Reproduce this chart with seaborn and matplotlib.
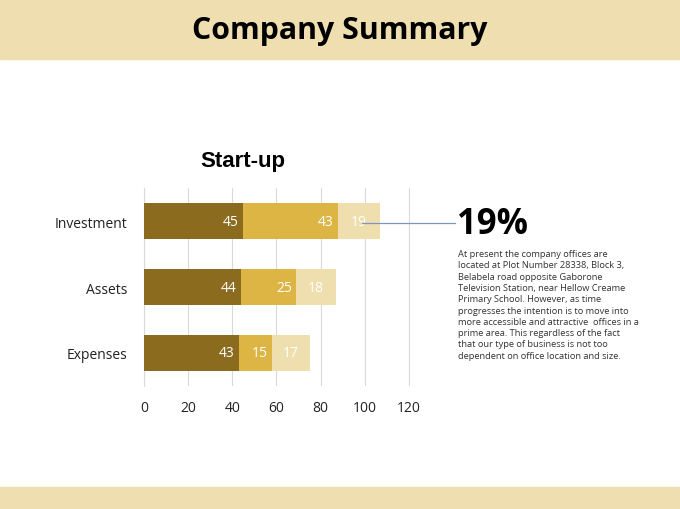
import pandas as pd
import matplotlib.pyplot as plt
import seaborn as sns
from matplotlib.patches import Rectangle

# ===============================
# DATA
# ===============================
categories = ["Investment", "Assets", "Expenses"]
series1 = [45, 44, 43]
series2 = [43, 25, 15]
series3 = [19, 18, 17]
x_ticks = [0, 20, 40, 60, 80, 100, 120]

highlight = "19%"
paragraph = [
    "At present the company offices are",
    "located at Plot Number 28338, Block 3,",
    "Belabela road opposite Gaborone",
    "Television Station, near Hellow Creame",
    "Primary School. However, as time",
    "progresses the intention is to move into",
    "more accessible and attractive  offices in a",
    "prime area. This regardless of the fact",
    "that our type of business is not too",
    "dependent on office location and size.",
]

# colours
band_col = "#EFDFB0"
dark_col = "#8B6C1F"
mid_col = "#DDB545"
light_col = "#EFDFAF"

df = pd.DataFrame({"cat": categories, "s1": series1, "s2": series2, "s3": series3})
df["c1"] = df["s1"]
df["c2"] = df["s1"] + df["s2"]
df["c3"] = df["c2"] + df["s3"]

sns.set_theme(style="white")
plt.rcParams["font.family"] = ["Open Sans", "DejaVu Sans"]

fig = plt.figure(figsize=(6.8, 5.1), dpi=100)

# header / footer bands
fig.patches.append(Rectangle((0, 1 - 60 / 510), 1, 60 / 510, transform=fig.transFigure,
                             color=band_col, zorder=0))
fig.patches.append(Rectangle((0, 0), 1, 22 / 510, transform=fig.transFigure,
                             color=band_col, zorder=0))
fig.text(0.5, 1 - 31 / 510, "Company Summary", ha="center", va="center",
         fontsize=21.8, fontweight="bold", color="black")

# ===============================
# STACKED BAR CHART
# ===============================
ax = fig.add_axes([144 / 680, 1 - 387 / 510, 266 / 680, 198 / 510])
bar_kw = dict(orient="h", width=0.55, saturation=1, linewidth=0, ax=ax, zorder=3)
sns.barplot(data=df, y="cat", x="c3", color=light_col, **bar_kw)
sns.barplot(data=df, y="cat", x="c2", color=mid_col, **bar_kw)
sns.barplot(data=df, y="cat", x="c1", color=dark_col, **bar_kw)

for i, row in df.iterrows():
    ax.text(row["c1"] - 2, i, str(row["s1"]), ha="right", va="center",
            color="white", fontsize=10, zorder=4)
    ax.text(row["c2"] - 2, i, str(row["s2"]), ha="right", va="center",
            color="white", fontsize=10, zorder=4)
    ax.text(row["c2"] + row["s3"] / 2, i, str(row["s3"]), ha="center", va="center",
            color="white", fontsize=10, zorder=4)

ax.set_xlim(0, 120.5)
ax.set_ylim(2.5, -0.5)
ax.set_xticks(x_ticks)
ax.set_xlabel("")
ax.set_ylabel("")
ax.grid(axis="x", color="#D9D9D9", linewidth=0.8, zorder=0)
ax.grid(axis="y", visible=False)
for s in ["top", "right", "bottom"]:
    ax.spines[s].set_visible(False)
ax.spines["left"].set_color("#D9D9D9")
ax.spines["left"].set_linewidth(0.8)
ax.tick_params(axis="both", length=0, labelsize=10, colors="#222222")
ax.tick_params(axis="x", pad=10)
ax.tick_params(axis="y", pad=12)

fig.text(243 / 680, 1 - 161 / 510, "Start-up", ha="center", va="center",
         fontsize=16, fontweight="bold", color="black",
         family=["Liberation Sans", "DejaVu Sans"])

# ===============================
# CALLOUT
# ===============================
fig.add_artist(plt.Line2D([362 / 680, 455 / 680], [1 - 224 / 510, 1 - 224 / 510],
                          transform=fig.transFigure, color="#7F96BA", linewidth=0.9))
fig.text(457 / 680, 1 - 225 / 510, highlight, ha="left", va="center",
         fontsize=25, fontweight="bold", color="black")
fig.text(458 / 680, 1 - 250 / 510, "\n".join(paragraph), ha="left", va="top",
         fontsize=6.7, color="#333333", linespacing=1.33)

fig.savefig("out.png", dpi=100)
